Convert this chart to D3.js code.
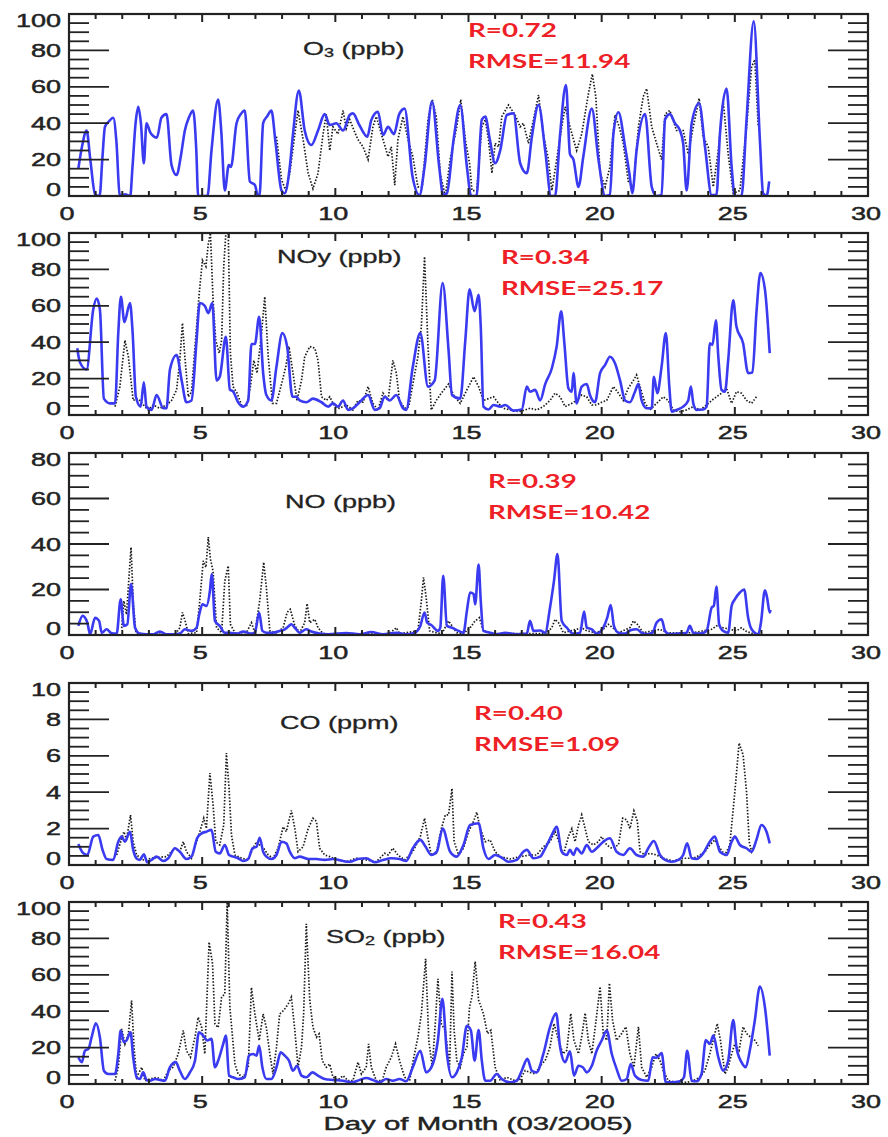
<!DOCTYPE html>
<html><head><meta charset="utf-8">
<script src="https://cdn.jsdelivr.net/npm/d3@7"></script>
<style>body{margin:0;background:#fff}svg{display:block}</style>
</head><body>
<svg id="c" width="888" height="1137"></svg>
<script>
// ---------------- DATA ----------------
const xTicks = [0,5,10,15,20,25,30];
const panelNames = ["O3","NOy","NO","CO","SO2"];
const panelUnits = ["(ppb)","(ppb)","(ppb)","(ppm)","(ppb)"];
const yMax = [100,100,80,10,100];
const yMajor = [20,20,20,2,20];
const yMinor = [5,5,5,0.5,5];
const rValues = ["R=0.72","R=0.34","R=0.39","R=0.40","R=0.43"];
const rmseValues = ["RMSE=11.94","RMSE=25.17","RMSE=10.42","RMSE=1.09","RMSE=16.04"];

const o3Model = [[0.35,15],[0.5,28],[0.66,36],[0.8,20],[0.98,1],[1.15,0],[1.25,20],[1.35,38],[1.5,41],[1.66,43],[1.78,30],[1.9,1],[2.0,0],[2.1,1],[2.3,0],[2.38,15],[2.5,40],[2.6,49],[2.7,40],[2.81,18],[2.91,40],[3.05,35],[3.16,33],[3.3,32],[3.47,43],[3.66,45],[3.85,17],[4.04,11.5],[4.2,22],[4.35,36],[4.5,43],[4.66,47],[4.78,25],[4.85,0],[5.0,0],[5.2,0],[5.35,25],[5.6,53],[5.72,35],[5.85,3],[6.0,17],[6.08,16],[6.29,40],[6.45,45],[6.6,47],[6.79,8],[6.98,6],[7.1,0],[7.15,0],[7.29,40],[7.45,44],[7.6,47],[7.75,30],[7.98,3],[8.1,1.5],[8.29,16],[8.41,34],[8.63,58],[8.85,36],[9.1,28],[9.35,36],[9.6,45],[9.79,39],[10.04,40],[10.29,36],[10.54,44.5],[10.66,45.4],[10.9,39],[11.2,32.6],[11.35,41.7],[11.6,46.3],[11.79,33.5],[11.98,38],[12.2,34],[12.4,45],[12.6,48],[12.9,10.6],[13.16,0.5],[13.35,16],[13.63,52],[13.9,16],[14.05,0.5],[14.19,1.5],[14.44,31],[14.69,50],[14.94,16],[15.1,0],[15.3,0],[15.5,42],[15.63,43.6],[15.8,31],[16.0,18],[16.19,25],[16.44,44.5],[16.69,45.4],[16.94,18],[17.19,12.5],[17.38,32.6],[17.63,50],[17.88,25],[18.1,0],[18.25,0],[18.44,34],[18.66,61],[18.81,23],[18.94,20],[19.13,5],[19.31,21.6],[19.63,48],[19.88,20],[20.13,0],[20.31,0.5],[20.44,34],[20.63,46],[20.88,27],[21.04,12.5],[21.15,1.5],[21.31,25],[21.63,45],[21.88,5],[22.06,0],[22.25,0.5],[22.38,42],[22.56,45],[22.75,40],[22.94,36],[23.06,29],[23.19,3],[23.38,40],[23.66,51],[23.88,27],[24.13,0.5],[24.31,0.5],[24.44,34],[24.69,59],[24.88,16],[25.0,0],[25.25,0],[25.44,42],[25.71,96],[25.94,31],[26.06,1.5],[26.19,0],[26.29,8]];
const o3Obs = [[7.79,32.6],[7.98,9],[8.14,3],[8.29,12.5],[8.48,34],[8.6,47],[8.79,31],[8.98,12.5],[9.16,4],[9.35,12.5],[9.54,34],[9.66,45],[9.79,25],[9.91,38],[10.1,34],[10.29,47],[10.41,37],[10.54,42],[10.73,35],[10.85,31],[11.04,27],[11.23,20],[11.41,38],[11.54,43.6],[11.79,31],[11.98,21.6],[12.1,27],[12.23,6],[12.35,31],[12.54,43.6],[12.73,31],[12.91,21.6],[13.1,5],[13.26,5],[13.48,42],[13.64,53],[13.79,43.6],[13.94,12],[14.13,0],[14.31,20],[14.56,38],[14.71,53],[14.88,31],[15.04,18],[15.13,3],[15.31,3],[15.5,38],[15.63,42],[15.75,31],[15.88,12.5],[16.0,29],[16.13,27],[16.25,43.6],[16.5,50],[16.75,44.5],[16.94,38],[17.06,40],[17.25,29],[17.44,42],[17.63,55.5],[17.81,34],[18.0,20],[18.13,3],[18.31,20],[18.5,38],[18.63,49],[18.81,38],[19.06,25],[19.25,34],[19.5,56],[19.65,67],[19.78,54.6],[19.94,12.5],[20.13,5],[20.31,16],[20.5,44.5],[20.66,38],[20.81,29],[21.0,8],[21.19,5],[21.38,38],[21.56,54.6],[21.69,59],[21.88,38],[22.06,29],[22.25,20],[22.38,45],[22.56,47],[22.81,36],[23.06,36],[23.25,23],[23.44,38],[23.66,53.6],[23.81,32.6],[24.0,27],[24.19,5],[24.38,25],[24.56,52.7],[24.75,23],[24.94,1.5],[25.19,3],[25.44,38],[25.63,71],[25.75,75],[25.88,38]];

const noyModel = [[0.31,36.7],[0.41,29],[0.66,25],[0.91,58],[1.04,64],[1.16,58],[1.31,9],[1.54,6.4],[1.73,6.4],[1.85,45],[1.95,65],[2.08,51],[2.29,61.5],[2.39,45],[2.51,10],[2.69,4.6],[2.81,18],[2.91,4.6],[3.1,2.8],[3.29,11],[3.54,3.7],[3.66,3.7],[3.79,25],[4.04,33],[4.23,19],[4.41,7],[4.6,8],[4.79,41],[4.91,61.5],[5.1,60],[5.23,56],[5.38,61.5],[5.54,19],[5.66,21],[5.89,43],[6.04,14],[6.16,13],[6.35,7],[6.54,4.6],[6.73,8],[6.85,39],[6.98,39],[7.14,54],[7.29,23],[7.41,11],[7.6,8],[7.79,26.6],[8.01,45],[8.19,37.6],[8.39,10],[8.54,10],[8.66,8],[8.91,7],[9.16,9],[9.48,7],[9.73,4.6],[9.91,6.4],[10.1,4.6],[10.29,8],[10.48,2.8],[10.66,3.7],[10.91,7],[11.23,11],[11.48,2.8],[11.66,3.7],[11.85,10],[12.04,8],[12.29,11],[12.54,3.7],[12.66,2.8],[12.91,26.6],[13.19,45],[13.48,15.6],[13.73,19],[14.03,72.5],[14.25,35.8],[14.38,11],[14.69,9],[14.88,41],[15.04,69],[15.23,57],[15.38,66],[15.46,48.6],[15.56,4.6],[15.75,3],[15.94,5.5],[16.19,4.6],[16.38,5.5],[16.69,2.4],[17.0,3],[17.19,15.6],[17.31,12.8],[17.5,13.8],[17.69,8],[17.88,17],[18.13,25.7],[18.31,37.6],[18.48,57],[18.6,39.4],[18.75,14.7],[18.88,12.8],[18.94,23],[19.06,6.4],[19.25,15.6],[19.44,17],[19.56,11],[19.75,7],[19.94,23],[20.13,27.5],[20.31,32],[20.5,28.4],[20.69,19],[20.88,8],[21.06,7],[21.25,12.8],[21.38,17],[21.5,8],[21.69,3.7],[21.88,3.7],[21.96,21],[22.09,12],[22.25,26.6],[22.41,45],[22.54,15.6],[22.63,1.8],[22.81,2.8],[23.06,4.6],[23.25,8],[23.35,15.6],[23.44,6.4],[23.56,2.8],[23.81,3],[23.94,4.6],[24.06,39.4],[24.16,38.5],[24.29,52],[24.38,32],[24.5,13.8],[24.63,12.8],[24.75,30],[24.94,63],[25.06,48.6],[25.31,39.4],[25.5,23],[25.66,23.3],[25.81,56],[25.96,78],[26.13,69],[26.31,34]];
const noyObs = [[1.73,4.6],[1.91,15.6],[2.1,41],[2.23,32],[2.41,8],[2.54,9],[2.66,8],[2.85,4.6],[2.98,2.8],[3.16,5.5],[3.41,3.7],[3.66,5.5],[3.85,8],[4.04,13.8],[4.16,30],[4.26,50.5],[4.35,32],[4.48,10],[4.6,12.8],[4.76,43],[4.89,67],[5.01,85],[5.14,81.6],[5.23,94],[5.31,100],[5.41,63],[5.51,41],[5.64,34],[5.73,41],[5.81,81.6],[5.89,100],[5.98,100],[6.06,34],[6.16,15.6],[6.31,12],[6.48,5.5],[6.66,4.6],[6.81,15.6],[6.94,30],[7.06,23],[7.23,45],[7.35,65],[7.48,32],[7.64,6.4],[7.79,6.4],[7.98,17],[8.14,26.6],[8.26,37.6],[8.41,23],[8.56,8],[8.73,19],[8.85,32],[9.04,37.6],[9.23,36.7],[9.35,30],[9.48,10],[9.66,8],[9.79,10],[9.98,4.6],[10.16,3.7],[10.41,5.5],[10.66,2.8],[10.85,8],[11.04,7],[11.23,15.6],[11.41,6.4],[11.6,2.8],[11.79,12],[11.98,8],[12.16,30],[12.29,23],[12.41,8],[12.6,3.7],[12.76,4.6],[12.91,17],[13.1,32],[13.23,48.6],[13.35,87],[13.48,37.6],[13.6,2.8],[13.79,8],[13.98,12],[14.25,17],[14.44,11],[14.69,6.4],[14.94,13.8],[15.19,21],[15.38,15.6],[15.56,8],[15.75,9],[15.94,10],[16.13,6.4],[16.31,3.7],[16.56,2.8],[16.88,1.8],[17.13,2.8],[17.31,3.7],[17.56,2.8],[17.81,4.6],[18.06,8],[18.25,12],[18.44,10],[18.63,4.6],[18.88,6.4],[19.06,8],[19.25,11],[19.44,10],[19.63,5.5],[19.81,5.5],[20.0,7],[20.19,8],[20.44,15.6],[20.63,12],[20.81,8],[21.0,14.7],[21.19,19],[21.31,22],[21.44,15.6],[21.63,6.4],[21.81,2.8],[22.06,6.4],[22.31,10],[22.5,8],[22.69,2.8],[22.94,1.8],[23.19,2.8],[23.44,4.6],[23.69,2.8],[23.94,5.5],[24.13,8],[24.31,10],[24.5,12],[24.69,14.7],[24.88,6.4],[25.06,12.8],[25.25,12],[25.44,8],[25.63,6.4],[25.81,10]];

const noModel = [[0.35,4],[0.51,8.4],[0.69,5.4],[0.79,0.3],[0.98,7.6],[1.13,6.2],[1.23,1],[1.41,2.5],[1.6,0.8],[1.79,0.6],[1.94,15.7],[2.06,4],[2.19,4.7],[2.33,22.4],[2.48,3.2],[2.66,0.6],[2.91,0.3],[3.16,0.3],[3.41,1.5],[3.66,0.3],[3.91,0.3],[4.16,0.6],[4.35,2.5],[4.6,1.8],[4.79,3.2],[4.89,9],[5.01,13.5],[5.16,12.8],[5.29,19.4],[5.36,26.8],[5.48,6.2],[5.66,4],[5.85,1],[6.04,1],[6.29,0.6],[6.54,1.5],[6.85,0.6],[6.98,1],[7.14,9.9],[7.26,1.8],[7.41,1],[7.66,1],[7.91,1.8],[8.1,2.5],[8.26,4],[8.35,4.7],[8.48,3.2],[8.66,1],[8.91,2.5],[9.1,1.5],[9.41,0.6],[9.73,0.3],[10.41,0.9],[10.91,0.3],[11.35,1.3],[11.79,0.3],[12.29,1],[12.66,0.3],[12.98,1],[13.19,4],[13.35,9.9],[13.45,5.4],[13.6,4.4],[13.85,1.8],[13.94,3.2],[14.05,26],[14.19,4],[14.38,3.2],[14.63,1.8],[14.81,1],[14.94,10.6],[15.06,18.7],[15.19,18],[15.25,13.5],[15.38,31],[15.46,15],[15.56,1.8],[15.81,1],[16.06,0.3],[16.38,1],[16.81,0.3],[17.19,0.6],[17.31,6.2],[17.44,1.8],[17.69,2],[17.88,1],[18.06,12],[18.21,23.8],[18.34,35.6],[18.5,6.2],[18.69,3.2],[18.94,0.6],[19.19,1],[19.34,10.3],[19.44,3.2],[19.63,2.5],[19.81,0.6],[20.06,3.2],[20.21,7.6],[20.34,13.2],[20.46,4],[20.63,1],[20.88,0.6],[21.06,2],[21.31,2.5],[21.5,1],[21.69,0.3],[21.91,1],[22.06,5.4],[22.25,6.9],[22.38,1.8],[22.56,0.3],[22.88,0.6],[23.19,1],[23.31,4],[23.44,1],[23.69,0.6],[23.94,1.8],[24.13,12],[24.21,12.8],[24.31,21.3],[24.41,4.7],[24.56,1.8],[24.75,1],[24.88,12.8],[25.0,15.7],[25.19,18.7],[25.35,20],[25.5,7.6],[25.63,2.5],[25.88,0.3],[25.98,5.4],[26.13,19.7],[26.21,16.5],[26.31,9.9],[26.34,11]];
const noObs = [[1.98,3],[2.06,15],[2.16,9],[2.26,26.8],[2.33,38.5],[2.41,15],[2.51,1],[2.66,0.3],[3.0,0.5],[3.5,0.3],[4.0,0.5],[4.16,3.2],[4.26,9.9],[4.36,6.2],[4.48,0.6],[4.79,1],[4.91,15],[5.04,32.6],[5.14,29.7],[5.23,43],[5.31,33.4],[5.41,28],[5.54,3.2],[5.73,1],[5.85,23.8],[5.98,30.4],[6.06,4.7],[6.23,1],[6.41,1],[6.66,1],[6.85,5.4],[6.98,1],[7.16,15],[7.31,32],[7.41,20.9],[7.54,1.8],[7.79,1],[8.04,3.2],[8.19,9.9],[8.31,11.3],[8.48,4],[8.66,1],[8.85,5.4],[8.94,13.8],[9.04,5.4],[9.23,6.9],[9.35,3.2],[9.54,0.6],[10.0,0.3],[10.5,0.5],[11.0,0.3],[11.5,0.5],[12.0,0.3],[12.29,3.2],[12.41,0.6],[13.1,1.8],[13.23,15],[13.31,25.3],[13.41,16.5],[13.54,1.8],[13.79,1],[14.0,0.6],[14.25,6.2],[14.38,4],[14.56,1],[14.81,0.6],[15.06,3.2],[15.25,6.2],[15.41,7.6],[15.56,1.8],[16.0,0.6],[17.0,0.6],[17.9,0.6],[18.13,3.2],[18.25,6.9],[18.38,5.4],[18.56,1],[19.06,2.5],[19.25,3.2],[19.44,1.8],[19.81,1],[20.06,2.5],[20.25,4.7],[20.41,3.2],[20.63,1],[21.06,3.2],[21.19,6.2],[21.34,4.7],[21.56,1],[22.19,2.5],[22.44,1],[23.44,1],[24.13,2.5],[24.31,4],[24.56,3.2],[25.06,1.8],[25.25,3.2],[25.44,1.5],[25.69,0.6],[25.8,0.5]];

const coModel = [[0.35,1.16],[0.54,0.64],[0.69,0.55],[0.91,1.56],[1.1,1.65],[1.26,0.83],[1.41,0.33],[1.66,0.28],[1.85,1.28],[1.98,1.56],[2.1,1.28],[2.29,1.83],[2.41,0.83],[2.56,0.33],[2.66,0.28],[2.81,0.59],[2.94,0.15],[3.1,0.28],[3.29,0.46],[3.54,0.22],[3.73,0.37],[3.98,0.92],[4.16,0.73],[4.41,0.33],[4.6,0.46],[4.81,1.47],[4.98,1.74],[5.16,1.83],[5.35,1.93],[5.51,0.73],[5.66,0.64],[5.85,1.1],[6.01,0.55],[6.16,0.46],[6.35,0.37],[6.54,0.22],[6.73,0.33],[6.89,0.92],[7.04,1.0],[7.16,1.5],[7.29,0.73],[7.41,0.46],[7.6,0.33],[7.79,0.55],[7.98,1.28],[8.16,1.19],[8.29,0.73],[8.48,0.37],[8.66,0.46],[8.98,0.33],[9.29,0.33],[9.6,0.28],[9.91,0.33],[10.29,0.22],[10.54,0.18],[10.85,0.33],[11.16,0.37],[11.48,0.15],[11.79,0.28],[12.1,0.37],[12.41,0.33],[12.66,0.22],[12.91,0.92],[13.19,1.38],[13.39,1.0],[13.6,0.55],[13.81,0.73],[14.03,2.0],[14.31,0.73],[14.56,0.46],[14.81,1.1],[15.06,2.2],[15.38,2.29],[15.56,0.92],[15.75,0.33],[16.0,0.55],[16.25,0.4],[16.5,0.18],[16.81,0.28],[17.06,0.73],[17.19,0.83],[17.44,0.37],[17.69,0.46],[17.88,0.92],[18.13,1.65],[18.31,2.1],[18.5,0.73],[18.69,0.55],[18.81,0.83],[18.94,0.55],[19.06,0.92],[19.25,0.64],[19.44,1.1],[19.63,0.73],[19.81,0.92],[20.06,1.28],[20.31,1.47],[20.56,0.73],[20.81,0.55],[21.06,0.92],[21.31,0.55],[21.56,0.46],[21.75,0.92],[21.96,1.32],[22.19,0.55],[22.38,0.28],[22.63,0.18],[22.88,0.28],[23.06,0.55],[23.21,1.19],[23.38,0.37],[23.56,0.33],[23.81,0.64],[24.06,1.28],[24.25,1.56],[24.44,0.73],[24.69,0.55],[24.88,1.28],[25.0,1.56],[25.19,1.1],[25.44,0.92],[25.63,0.73],[25.81,1.38],[26.0,2.2],[26.19,1.83],[26.31,1.19]];
const coObs = [[1.79,0.55],[1.94,1.28],[2.06,1.83],[2.16,1.4],[2.31,2.75],[2.41,1.28],[2.54,0.55],[2.79,0.28],[3.2,0.4],[3.66,0.46],[3.98,0.92],[4.16,0.73],[4.29,1.28],[4.41,0.73],[4.6,0.37],[4.79,1.28],[4.91,1.83],[5.06,2.57],[5.16,2.0],[5.29,5.05],[5.41,3.3],[5.51,1.28],[5.66,1.1],[5.81,2.2],[5.91,6.15],[6.01,4.2],[6.1,1.65],[6.23,0.55],[6.48,0.37],[6.73,0.28],[6.91,0.92],[7.04,1.28],[7.16,1.1],[7.31,0.92],[7.48,0.55],[7.66,0.37],[7.85,0.92],[8.04,2.1],[8.16,1.83],[8.35,3.0],[8.48,2.0],[8.6,0.73],[8.79,1.0],[8.98,2.0],[9.16,2.57],[9.29,2.4],[9.41,0.92],[9.6,0.55],[9.79,0.46],[10.04,0.28],[10.41,0.18],[10.79,0.37],[11.16,0.28],[11.54,0.18],[11.85,0.64],[11.98,0.55],[12.16,0.92],[12.35,0.55],[12.6,0.28],[12.91,0.73],[13.19,1.56],[13.35,2.57],[13.48,1.47],[13.6,0.55],[13.79,0.64],[13.98,2.0],[14.13,2.75],[14.25,2.75],[14.38,4.2],[14.46,1.28],[14.63,0.55],[14.81,0.92],[15.0,1.83],[15.19,2.4],[15.31,2.9],[15.44,2.0],[15.63,1.28],[15.81,1.38],[16.0,0.73],[16.19,0.46],[16.56,0.33],[16.94,0.46],[17.31,0.55],[17.56,0.55],[17.81,1.0],[18.06,1.28],[18.25,1.83],[18.44,1.1],[18.56,0.55],[18.75,1.56],[18.88,2.0],[19.0,1.28],[19.13,2.2],[19.25,2.75],[19.38,2.0],[19.5,1.28],[19.69,1.1],[19.88,1.28],[20.0,1.56],[20.19,1.1],[20.38,0.92],[20.63,1.1],[20.79,2.57],[20.94,2.48],[21.06,2.0],[21.21,2.97],[21.34,2.4],[21.44,0.73],[21.63,0.55],[21.81,0.64],[22.06,0.55],[22.31,0.37],[22.69,0.22],[23.06,0.37],[23.44,0.37],[23.69,0.55],[23.88,0.73],[24.06,1.1],[24.25,1.38],[24.44,0.92],[24.63,0.55],[24.81,1.1],[25.0,4.0],[25.16,6.7],[25.31,6.05],[25.44,4.0],[25.54,1.28],[25.63,0.73],[25.75,1.1]];

const so2Model = [[0.35,14.7],[0.48,12],[0.6,18.3],[0.73,19.3],[0.85,25.7],[1.01,33.4],[1.16,25.7],[1.31,7.3],[1.48,5.5],[1.73,5.5],[1.85,16.5],[1.94,29.4],[2.06,23],[2.16,23.9],[2.31,28.4],[2.41,14.7],[2.54,3.7],[2.66,2.75],[2.79,6.4],[2.91,2.2],[3.04,1.8],[3.23,2.75],[3.41,2.2],[3.6,1.8],[3.79,9.2],[4.01,12],[4.16,7.3],[4.35,2.75],[4.54,6.4],[4.73,12.8],[4.88,28.4],[5.04,26.6],[5.19,23.9],[5.35,24.8],[5.48,9.2],[5.6,12.8],[5.79,22],[5.89,26.6],[6.01,4.6],[6.16,3.7],[6.35,2.75],[6.6,3.7],[6.76,15.6],[6.91,16.5],[7.04,15.6],[7.14,21],[7.26,9.2],[7.41,2.75],[7.6,2.75],[7.79,9.2],[7.95,17.4],[8.1,15.6],[8.26,12.8],[8.41,7.3],[8.56,10],[8.73,4.6],[8.91,3.7],[9.14,6.4],[9.35,4.6],[9.6,2.75],[9.91,2.2],[10.29,1.8],[10.6,0.9],[10.91,2.2],[11.16,3.3],[11.41,2.2],[11.66,0.9],[11.91,2.75],[12.16,1.8],[12.41,2.75],[12.66,1.5],[12.91,9.2],[13.19,18.3],[13.41,6.4],[13.66,11],[13.85,23.9],[14.02,46.8],[14.19,16.5],[14.38,3.7],[14.56,6.4],[14.75,14.7],[14.94,32],[15.09,29.4],[15.23,12.8],[15.38,29.7],[15.5,12.8],[15.63,1.8],[15.81,1.8],[16.06,5.5],[16.25,2.75],[16.56,0.9],[16.81,1.8],[17.0,7.3],[17.21,13.8],[17.38,7.3],[17.56,6.4],[17.81,16.5],[18.06,31.2],[18.29,38.9],[18.44,20.2],[18.63,12],[18.81,18],[18.96,4.6],[19.13,10],[19.29,9.2],[19.44,6.4],[19.63,10],[19.81,18.3],[20.0,23.9],[20.19,29.4],[20.38,16.5],[20.56,8.3],[20.75,1.8],[20.94,2.75],[21.09,11],[21.25,4.6],[21.5,2.2],[21.75,1.8],[21.91,14.7],[22.06,14.4],[22.25,17],[22.41,0.9],[22.63,0.9],[22.94,1.5],[23.09,3.7],[23.21,18.3],[23.38,1.8],[23.56,1.5],[23.75,5.5],[23.91,24.2],[24.06,22],[24.19,26.6],[24.38,14.7],[24.56,7.3],[24.75,12.8],[24.94,35.2],[25.06,20.2],[25.25,12],[25.41,9.2],[25.56,18.3],[25.75,34.9],[25.94,53.6],[26.13,42.2],[26.31,15.6]];
const so2Obs = [[1.73,1.8],[1.85,9.2],[1.98,30.3],[2.1,22],[2.23,27.5],[2.35,45.9],[2.44,20.2],[2.54,3.7],[2.73,9.2],[2.85,1.8],[3.04,2.75],[3.29,3.7],[3.54,1.8],[3.73,7.3],[3.91,9.2],[4.1,16.5],[4.29,29.4],[4.41,18.3],[4.56,14.7],[4.73,25.7],[4.85,36.7],[4.98,31.2],[5.1,16.5],[5.26,78],[5.39,66],[5.48,33],[5.6,31],[5.73,47.7],[5.85,49.5],[5.94,100],[6.04,42.2],[6.14,25.7],[6.23,11],[6.35,5.5],[6.54,3.7],[6.73,9.2],[6.85,53],[6.98,38.5],[7.14,23.9],[7.29,38.5],[7.41,31],[7.54,16.5],[7.66,5.5],[7.79,20.2],[7.91,38.5],[8.06,40.4],[8.23,44],[8.35,47.7],[8.48,29.4],[8.6,9.2],[8.73,20.2],[8.81,38.5],[8.91,88],[9.04,45.9],[9.16,31.2],[9.29,25.7],[9.39,27.5],[9.51,12.8],[9.66,9.2],[9.79,11],[9.91,3.7],[10.1,2.2],[10.29,4.6],[10.48,1.8],[10.66,1.8],[10.85,12],[10.98,5.5],[11.16,9.2],[11.25,22],[11.35,9.2],[11.54,1.8],[11.76,1.8],[11.91,9.2],[12.1,14.7],[12.26,22],[12.41,12.8],[12.6,3.7],[12.79,1.8],[12.91,12],[13.1,25.7],[13.23,38.5],[13.39,68.8],[13.51,23.9],[13.64,9.2],[13.76,34.9],[13.85,57.8],[13.98,33],[14.13,29.5],[14.29,9.2],[14.38,61.8],[14.46,29.5],[14.56,12.9],[14.69,9.2],[14.81,16.6],[14.94,20.3],[15.04,42.4],[15.13,48],[15.25,67.3],[15.38,46],[15.56,38.7],[15.71,27.7],[15.84,29.5],[16.0,9.2],[16.19,1.8],[16.44,3.7],[16.75,1.8],[16.94,2.75],[17.13,7.4],[17.31,6.4],[17.5,5.5],[17.69,10],[17.88,12.9],[18.06,20.3],[18.21,33.2],[18.38,24],[18.55,16.6],[18.69,18.5],[18.84,38.7],[18.96,24],[19.13,16.6],[19.25,25.8],[19.38,39],[19.5,24],[19.63,16.6],[19.79,35],[19.94,53.5],[20.06,27.7],[20.19,24],[20.29,55.4],[20.41,35],[20.56,24],[20.75,27.7],[20.91,31.4],[21.06,16.6],[21.21,9.2],[21.38,31.4],[21.5,9.2],[21.69,3.7],[21.88,9.2],[22.04,16.6],[22.19,12.9],[22.31,7.4],[22.5,1.8],[22.81,0.9],[23.19,0.9],[23.44,1.8],[23.69,3.7],[23.88,7.4],[24.06,16.6],[24.25,27.7],[24.34,33.2],[24.46,24],[24.63,5.5],[24.75,9.2],[24.88,16.6],[25.0,22],[25.16,18.5],[25.31,31.4],[25.44,27.7],[25.59,25.8],[25.75,24],[25.88,21]];

const modelSeries = [o3Model, noyModel, noModel, coModel, so2Model];
const obsSeries = [o3Obs, noyObs, noObs, coObs, so2Obs];

// ---------------- LAYOUT ----------------
const panelTops = [14,233,453,683,902];
const PH = 182;
const statPos = [[468,37],[501,264],[488,488],[474,720],[498,928]];
const labelPos = [[303,55],[277,263],[285,508],[280,729],[326,943]];
const SX = 1.5;        // horizontal text stretch of the original figure
const AXC = "#222222";
const BLUE = "#3a3af0";

const svg = d3.select("#c");
const x = d3.scaleLinear().domain([0,30]).range([69,868]);

function stretchedText(g, px, py, txt, anchor, size, opts={}) {
  const t = g.append("text")
    .attr("transform", `translate(${px},${py}) scale(${opts.sx||SX},1)`)
    .attr("text-anchor", anchor)
    .attr("font-family", opts.family || "'Liberation Sans', Arial, sans-serif")
    .attr("font-size", size)
    .attr("font-weight", opts.weight || "normal")
    .attr("fill", opts.fill || AXC);
  if (opts.stroke) t.attr("stroke", opts.stroke).attr("stroke-width", opts.sw || 0.4);
  t.text(txt);
  return t;
}

// layer for all tick marks
const tickLayer = svg.append("g").attr("id", "ticks");
function addTick(x1, y1, x2, y2, w) {
  tickLayer.append("line")
    .attr("x1", x1).attr("y1", y1).attr("x2", x2).attr("y2", y2)
    .style("stroke", AXC).style("stroke-width", w + "px");
}

panelNames.forEach((name, i) => {
  const top = panelTops[i], bot = top + PH;
  const y = d3.scaleLinear().domain([0, yMax[i]]).range([bot, top]);
  const g = svg.append("g");

  const clipId = "clip" + i;
  svg.append("clipPath").attr("id", clipId)
    .append("rect").attr("x", x(0)).attr("y", top).attr("width", x(30)-x(0)).attr("height", PH);

  const lineObs = d3.line().x(d => x(d[0])).y(d => y(d[1]));
  const lineMod = d3.line().x(d => x(d[0])).y(d => y(d[1])).curve(d3.curveMonotoneX);

  const plot = g.append("g").attr("clip-path", `url(#${clipId})`);
  plot.append("path").datum(obsSeries[i])
    .attr("d", lineObs).attr("fill", "none")
    .attr("stroke", "#1a1a1a").attr("stroke-width", 1.7)
    .attr("stroke-dasharray", "1.5,1.7");
  plot.append("path").datum(modelSeries[i])
    .attr("d", lineMod).attr("fill", "none")
    .attr("stroke", BLUE).attr("stroke-width", 2.6)
    .attr("stroke-linejoin", "round");

  // frame
  g.append("rect").attr("x", x(0)).attr("y", top).attr("width", x(30)-x(0)).attr("height", PH)
    .attr("fill", "none").attr("stroke", AXC).attr("stroke-width", 2.2);

  // ticks positioned through the scales
  const nMinor = Math.round(yMax[i] / yMinor[i]);
  for (let k = 1; k < nMinor; k++) {
    const v = k * yMinor[i];
    const isMajor = Math.abs(v / yMajor[i] - Math.round(v / yMajor[i])) < 1e-6;
    const len = isMajor ? 40 : 20;
    addTick(x(0), y(v), x(0) + len, y(v), 1.8);
    addTick(x(30), y(v), x(30) - len, y(v), 1.8);
  }
  for (let d = 1; d < 30; d++) {
    const len = d % 5 === 0 ? 8 : 5;
    addTick(x(d), bot, x(d), bot - len, 2);
    addTick(x(d), top, x(d), top + len, 2);
  }

  // y tick labels
  const majors = d3.range(0, yMax[i] + 1e-9, yMajor[i]);
  majors.forEach((v, k) => {
    let yy = y(v) + 6.5;
    if (k === 0) yy -= 7;
    if (k === majors.length - 1) yy += 6.5;
    stretchedText(g, 61, yy, d3.format("d")(v), "end", 18, {stroke: AXC, sw: 0.45});
  });
  // x tick labels
  xTicks.forEach(v => {
    stretchedText(g, x(v) - 2, bot + 24, String(v), "middle", 18, {stroke: AXC, sw: 0.45});
  });

  // species label
  const lp = labelPos[i];
  const lt = g.append("text")
    .attr("transform", `translate(${lp[0]},${lp[1]}) scale(${SX},1)`)
    .attr("font-family", "'Liberation Sans', Arial, sans-serif")
    .attr("font-size", 18).attr("fill", AXC).attr("stroke", AXC).attr("stroke-width", 0.3);
  const m = name.match(/^([A-Za-z]+?)(\d)$/);
  if (m) {
    lt.append("tspan").text(m[1]);
    lt.append("tspan").attr("font-size", 12).attr("dy", 2).text(m[2]);
    lt.append("tspan").attr("dy", -2).text(" " + panelUnits[i]);
  } else {
    lt.text(name + " " + panelUnits[i]);
  }

  // statistics
  const sp = statPos[i];
  const statOpts = {family: "Lato, 'Open Sans', sans-serif", weight: 700, fill: "#ee1f26", sx: 1.5};
  stretchedText(g, sp[0], sp[1], rValues[i], "start", 18.5, statOpts);
  stretchedText(g, sp[0], sp[1] + 31, rmseValues[i], "start", 18.5, statOpts);
});

tickLayer.raise();
stretchedText(svg, 478, 1130, "Day of Month (03/2005)", "middle", 19, {stroke: AXC, sw: 0.4, sx: 1.55});
</script>
</body></html>
